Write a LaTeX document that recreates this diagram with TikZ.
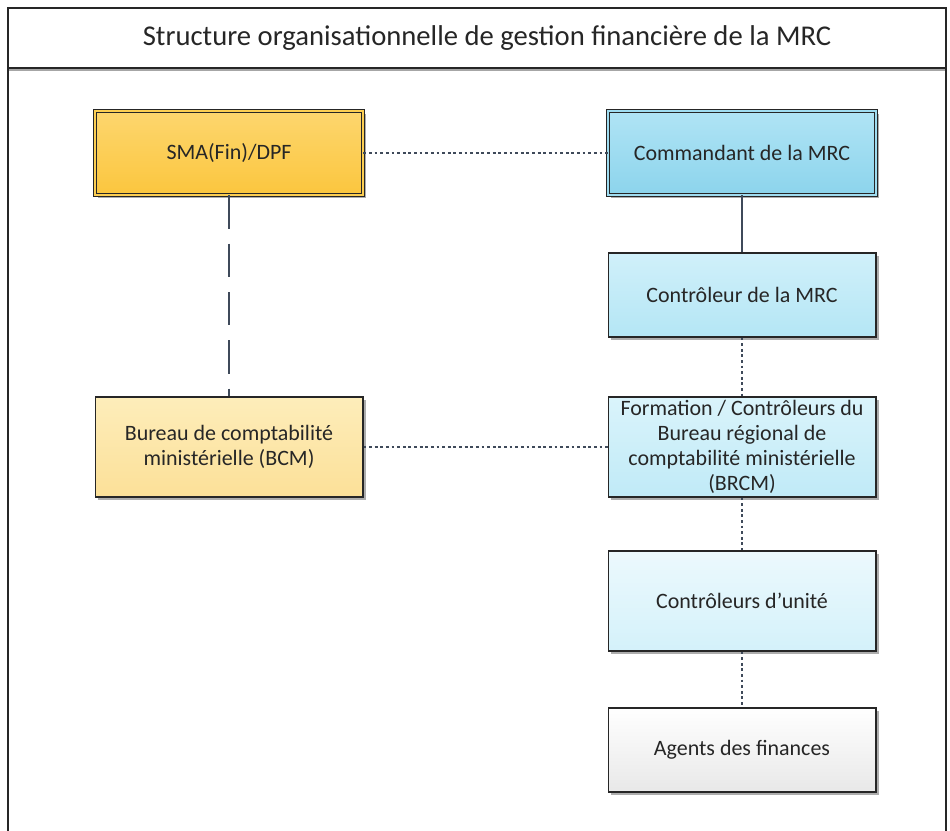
\documentclass[tikz,border=0pt]{standalone}
\usepackage{fontspec}
\setmainfont{Carlito}
\usetikzlibrary{shadows}
\definecolor{ligne}{HTML}{3F4A5A}
\tikzset{
    poste/.style={draw=black!85, line width=0.6pt, minimum width=5.36cm, minimum height=1.68cm,
        align=center, font=\fontsize{12.5}{14}\selectfont, text=black!85,
        drop shadow={shadow xshift=1.5pt, shadow yshift=-1.5pt, fill=black!40, opacity=0.8}},
    double cadre/.style={double distance=1.3pt, line width=0.5pt},
    haut/.style={minimum height=2cm},
    pointille/.style={ligne, line width=0.9pt, dash pattern=on 1.6pt off 1.6pt},
    tirets/.style={ligne, line width=0.9pt, dash pattern=on 19pt off 8.5pt},
    plein/.style={ligne, line width=0.9pt}
}
\begin{document}
\begin{tikzpicture}[x=0.02cm, y=-0.02cm]
    \useasboundingbox (0,0) rectangle (950,831);
    % cadre et titre
    \draw[black!85, line width=0.6pt] (8,845) -- (8,8) -- (946,8) -- (946,845);
    \draw[black!85, line width=0.6pt] (8,68) -- (946,68);
    \draw[black!35, line width=1pt] (9,70) -- (945,70);
    \node[font=\fontsize{16.3}{19}\selectfont, text=black!85] (titre) at (487,38)
        {Structure organisationnelle de gestion financière de la MRC};
    % colonne de gauche
    \node[poste, double cadre, double={rgb,255:red,252;green,206;blue,82},
        top color={rgb,255:red,253;green,214;blue,110}, bottom color={rgb,255:red,251;green,198;blue,62}]
        (sma) at (229,153) {SMA(Fin)/DPF};
    \node[poste, haut, top color={rgb,255:red,253;green,237;blue,186}, bottom color={rgb,255:red,252;green,224;blue,152}]
        (bcm) at (229,447) {Bureau de comptabilité\\ministérielle (BCM)};
    % colonne de droite
    \node[poste, double cadre, double={rgb,255:red,160;green,221;blue,241},
        top color={rgb,255:red,176;green,228;blue,245}, bottom color={rgb,255:red,140;green,212;blue,236}]
        (cmdt) at (742,153) {Commandant de la MRC};
    \node[poste, top color={rgb,255:red,208;green,240;blue,250}, bottom color={rgb,255:red,180;green,230;blue,245}]
        (ctrl) at (742,295) {Contrôleur de la MRC};
    \node[poste, haut, inner sep=1pt, font=\fontsize{12.5}{14.2}\selectfont,
        top color={rgb,255:red,218;green,244;blue,251}, bottom color={rgb,255:red,192;green,234;blue,247}]
        (brcm) at (742,447) {Formation / Contrôleurs du\\Bureau régional de\\comptabilité ministérielle\\(BRCM)};
    \node[poste, haut, top color={rgb,255:red,236;green,249;blue,253}, bottom color={rgb,255:red,212;green,241;blue,250}]
        (unite) at (742,601) {Contrôleurs d’unité};
    \node[poste, top color=white, bottom color={rgb,255:red,232;green,232;blue,232}]
        (agents) at (742,750) {Agents des finances};
    % liens
    \draw[pointille] (sma) -- (cmdt);
    \draw[tirets] (sma) -- (bcm);
    \draw[plein] (cmdt) -- (ctrl);
    \draw[pointille] (ctrl) -- (brcm);
    \draw[pointille] (bcm) -- (brcm);
    \draw[pointille] (brcm) -- (unite);
    \draw[pointille] (unite) -- (agents);
\end{tikzpicture}
\end{document}
